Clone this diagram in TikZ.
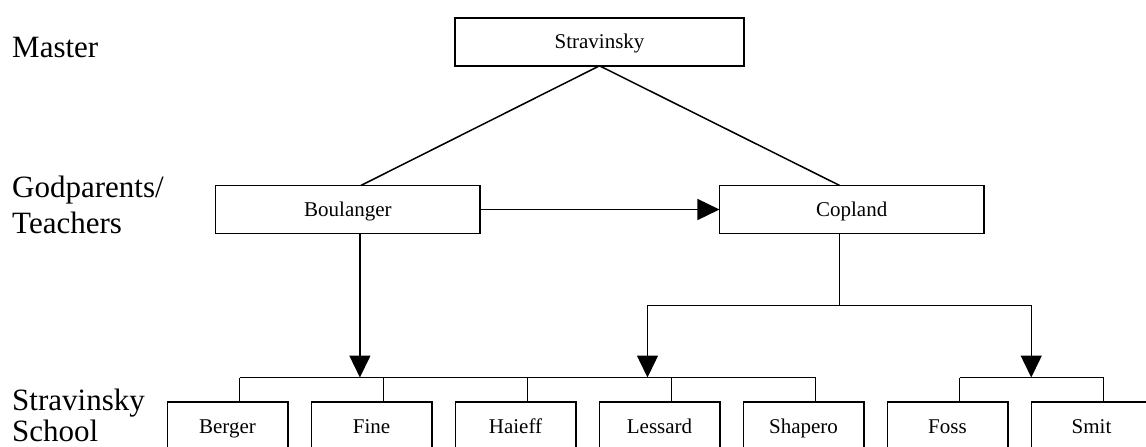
\documentclass[tikz,border=0pt]{standalone}
\usepackage{fontspec}
\setmainfont{Liberation Serif}
\usetikzlibrary{arrows.meta, positioning}
\tikzset{
  box/.style={rectangle, draw, line width=1.5pt, minimum height=48pt, inner sep=0pt, outer sep=0pt, text height=14pt, text depth=0pt, font=\fontsize{21}{24}\selectfont},
  pupil/.style={box, minimum width=120.5pt},
  level/.style={anchor=base west, inner sep=0pt, align=left, font=\fontsize{31}{36}\selectfont},
  link/.style={line width=1.5pt},
  arrow/.style={-{Triangle[length=22pt, width=21pt]}, line width=1.5pt},
}

\begin{document}
\begin{tikzpicture}[x=1pt, y=-1pt]
    \useasboundingbox (0,0) rectangle (1146,447);
    % levels
    \node[level] (master) at (12,57.3) {Master};
    \node[level] (teachers) at (12,233) {Godparents/\\Teachers};
    \node[level] (school) at (12,441) {Stravinsky\\[-5pt]School};
    % master and teachers
    \node[box, minimum width=289pt] (stravinsky) at (599.5,41.8) {Stravinsky};
    \node[box, minimum width=264.5pt] (boulanger) at (347.9,209.5) {Boulanger};
    \node[box, minimum width=264.5pt] (copland) at (851.7,209.5) {Copland};
    % school
    \node[pupil] (berger) at (227.5,426) {Berger};
    \node[pupil, right=23.5pt of berger] (fine) {Fine};
    \node[pupil, right=23.5pt of fine] (haieff) {Haieff};
    \node[pupil, right=23.5pt of haieff] (lessard) {Lessard};
    \node[pupil, right=23.5pt of lessard] (shapero) {Shapero};
    \node[pupil, right=23.5pt of shapero] (foss) {Foss};
    \node[pupil, right=23.5pt of foss] (smit) {Smit};

    \draw[link] (stravinsky.south) -- ([xshift=13pt]boulanger.north);
    \draw[link] (stravinsky.south) -- ([xshift=-12pt]copland.north);
    \draw[arrow] (boulanger) -- (copland);

    % buses over the pupils
    \foreach \p in {berger, fine, haieff, lessard, shapero, foss, smit}
      \draw[link] ([xshift=12pt]\p.north) -- ++(0,-24.5);
    \coordinate (mainbus) at ([xshift=12pt, yshift=24.5pt]berger.north);
    \coordinate (smallbus) at ([xshift=12pt, yshift=24.5pt]foss.north);
    \draw[link] (mainbus) -- ([xshift=12pt, yshift=24.5pt]shapero.north);
    \draw[link] (smallbus) -- ([xshift=12pt, yshift=24.5pt]smit.north);

    \draw[arrow] ([xshift=12pt]boulanger.south) -- ([xshift=12pt]boulanger.south |- mainbus);
    \coordinate (fork) at ([xshift=-12pt, yshift=-72.2pt]copland.south);
    \draw[link] ([xshift=-12pt]copland.south) -- (fork);
    \draw[arrow] (fork) -| ([xshift=-12pt]lessard.north |- mainbus);
    \draw[arrow] (fork) -| (smit.west |- smallbus);
  \end{tikzpicture}
\end{document}
